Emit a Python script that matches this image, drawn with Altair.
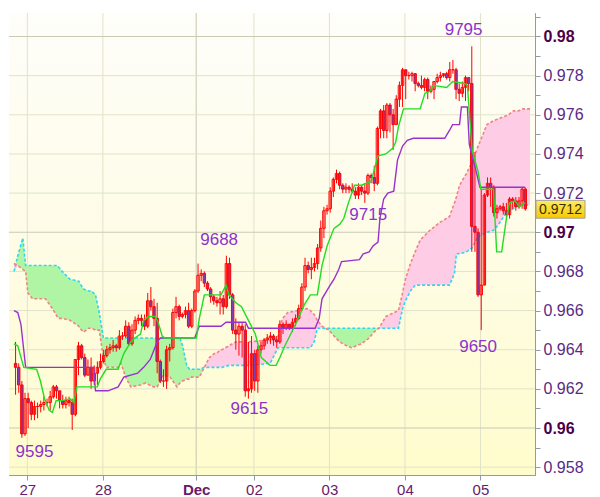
import altair as alt
import pandas as pd

# ---------------- data (prices in pips, 1/10000) ----------------
first_open = 9633
close = [9631, 9622, 9597, 9615, 9613, 9607, 9611, 9611, 9612, 9613,
         9613, 9616, 9621, 9619, 9614, 9612, 9614, 9613, 9607, 9635,
         9642, 9636, 9627, 9631, 9624, 9628, 9631, 9634, 9637, 9640,
         9641, 9642, 9641, 9647, 9647, 9652, 9643, 9650, 9655, 9656,
         9655, 9652, 9665, 9662, 9656, 9634, 9624, 9624, 9640, 9641,
         9659, 9662, 9657, 9658, 9660, 9652, 9660, 9670, 9678, 9679,
         9674, 9671, 9667, 9665, 9664, 9666, 9662, 9684, 9668, 9650,
         9648, 9652, 9650, 9619, 9620, 9638, 9624, 9640, 9642, 9645,
         9646, 9647, 9645, 9644, 9653, 9651, 9653, 9651, 9654, 9656,
         9661, 9672, 9683, 9681, 9682, 9684, 9692, 9702, 9711, 9712,
         9721, 9727, 9730, 9724, 9722, 9723, 9722, 9721, 9719, 9723,
         9721, 9720, 9729, 9728, 9725, 9753, 9762, 9752, 9765, 9760,
         9755, 9768, 9775, 9783, 9780, 9780, 9781, 9776, 9775, 9774,
         9778, 9772, 9773, 9777, 9779, 9780, 9781, 9779, 9783, 9783,
         9773, 9771, 9774, 9779, 9776, 9703, 9700, 9668, 9673, 9719,
         9725, 9723, 9710, 9712, 9713, 9711, 9709, 9717, 9716, 9713,
         9716, 9722, 9712]
high = [9644, 9633, 9624, 9618, 9618, 9614, 9614, 9613, 9614, 9616,
        9615, 9619, 9622, 9622, 9617, 9617, 9616, 9616, 9615, 9635,
        9644, 9643, 9638, 9635, 9636, 9632, 9634, 9638, 9640, 9642,
        9643, 9645, 9643, 9650, 9649, 9655, 9654, 9653, 9657, 9658,
        9658, 9658, 9669, 9672, 9666, 9664, 9635, 9630, 9642, 9643,
        9661, 9667, 9663, 9659, 9662, 9664, 9661, 9671, 9684, 9681,
        9680, 9675, 9672, 9668, 9667, 9670, 9668, 9688, 9687, 9669,
        9656, 9654, 9654, 9653, 9644, 9647, 9640, 9642, 9644, 9646,
        9648, 9649, 9648, 9647, 9655, 9654, 9655, 9653, 9656, 9658,
        9663, 9674, 9687, 9685, 9687, 9687, 9694, 9706, 9713, 9714,
        9723, 9728, 9732, 9731, 9725, 9725, 9724, 9725, 9723, 9725,
        9724, 9725, 9730, 9730, 9734, 9754, 9763, 9765, 9766, 9766,
        9763, 9770, 9777, 9784, 9783, 9782, 9782, 9781, 9777, 9780,
        9779, 9779, 9775, 9777, 9781, 9782, 9781, 9782, 9787, 9788,
        9784, 9776, 9777, 9780, 9779, 9795, 9741, 9702, 9722, 9720,
        9728, 9728, 9724, 9714, 9714, 9715, 9715, 9718, 9718, 9718,
        9718, 9723, 9723]
low = [9617, 9618, 9595, 9596, 9600, 9604, 9604, 9605, 9608, 9609,
       9611, 9609, 9615, 9615, 9610, 9610, 9610, 9611, 9599, 9606,
       9627, 9635, 9626, 9627, 9620, 9622, 9622, 9630, 9633, 9636,
       9638, 9639, 9639, 9640, 9645, 9646, 9642, 9642, 9648, 9653,
       9652, 9650, 9651, 9660, 9652, 9628, 9623, 9621, 9620, 9634,
       9640, 9656, 9655, 9656, 9656, 9651, 9651, 9659, 9669, 9675,
       9672, 9670, 9664, 9663, 9662, 9658, 9658, 9661, 9666, 9648,
       9640, 9637, 9636, 9616, 9615, 9618, 9619, 9618, 9638, 9640,
       9643, 9643, 9642, 9641, 9643, 9648, 9650, 9650, 9649, 9652,
       9655, 9660, 9670, 9679, 9676, 9680, 9681, 9690, 9697, 9709,
       9710, 9718, 9725, 9722, 9720, 9720, 9720, 9720, 9717, 9717,
       9719, 9715, 9719, 9725, 9721, 9724, 9748, 9748, 9748, 9751,
       9742, 9755, 9764, 9764, 9768, 9778, 9777, 9772, 9774, 9773,
       9772, 9768, 9771, 9768, 9776, 9777, 9779, 9778, 9777, 9781,
       9768, 9767, 9769, 9767, 9772, 9690, 9690, 9667, 9650, 9673,
       9718, 9713, 9708, 9707, 9711, 9709, 9707, 9707, 9712, 9711,
       9712, 9712, 9711]

tenkan_x = [-0.5, 0.7, 2.6, 6.7, 7.9, 9.2, 10.7, 11.7, 12.9, 14.8, 17.3, 18.5, 19.5,
            26.0, 26.9, 28.8, 32.6, 34.4, 36.6, 37.9, 39.7, 40.7, 42.2, 44.4, 45.3,
            46.6, 47.5, 53.8, 57.5, 58.4, 60.0, 65.3, 66.9, 67.8, 70.0, 71.8, 74.0,
            76.2, 78.1, 80.9, 82.8, 84.0, 85.6, 88.7, 91.8, 93.7, 95.9, 97.4, 99.0,
            101.2, 103.0, 104.3, 105.8, 107.7, 109.9, 113.0, 115.2, 117.7, 119.9,
            120.8, 121.7, 123.3, 128.6, 130.1, 131.7, 132.7, 137.0, 138.9, 142.7,
            143.6, 145.1, 147.0, 147.9, 151.9, 152.9, 154.5, 156.0, 157.0, 158.8,
            160.1, 161.9]
tenkan_y = [9643, 9642, 9631, 9630, 9624, 9615, 9609, 9608, 9614, 9614, 9615, 9613, 9621,
            9621, 9625, 9630, 9630, 9638, 9644, 9646, 9648, 9655, 9657, 9657, 9654,
            9647, 9646, 9646, 9646, 9656, 9668, 9668, 9673, 9668, 9664, 9662, 9655,
            9648, 9636, 9632, 9632, 9636, 9642, 9652, 9663, 9668, 9668, 9683, 9693,
            9702, 9704, 9707, 9715, 9724, 9724, 9726, 9739, 9740, 9743,
            9746, 9754, 9763, 9763, 9771, 9772, 9775, 9774, 9777, 9776,
            9775, 9742, 9731, 9722, 9722, 9690, 9690, 9707, 9715, 9716,
            9713, 9715]

kijun_x = [-0.5, 0.7, 1.7, 3.2, 24.8, 25.4, 29.4, 32.6, 34.4, 38.8, 40.7, 42.8, 45.0,
           46.0, 56.9, 58.4, 65.3, 66.9, 73.1, 74.0, 95.2, 96.5, 97.4, 99.6, 101.2,
           102.7, 103.6, 109.3, 110.5, 112.4, 113.6, 115.2, 115.8, 117.0, 118.3,
           120.2, 121.4, 123.0, 124.5, 126.4, 136.4, 137.9, 138.9, 141.1, 141.7,
           143.6, 144.2, 144.8, 146.4, 147.6, 161.9]
kijun_y = [9660, 9659, 9653, 9631, 9631, 9619, 9619, 9621, 9626, 9628, 9631, 9635, 9644,
           9646, 9646, 9652, 9652, 9654, 9654, 9651, 9651, 9656, 9666, 9672, 9676,
           9681, 9685, 9686, 9689, 9690, 9693, 9695, 9707, 9717, 9720,
           9721, 9737, 9744, 9747, 9748, 9748, 9752, 9755, 9755, 9764,
           9764, 9745, 9741, 9731, 9723, 9723]

cloud_x = [-0.5, 0.7, 2.3, 3.2, 3.9, 5.4, 9.5, 11.7, 13.2, 13.8, 14.8, 17.3, 20.1, 20.4,
           21.6, 23.2, 24.1, 25.4, 26.6, 27.9, 28.8, 32.6, 33.5, 35.0, 36.6, 39.7, 41.3,
           43.8, 45.0, 46.9, 49.1, 51.3, 52.2, 53.1, 54.4, 55.3, 55.9, 58.4, 60.0, 61.6,
           63.1, 63.7, 65.3, 65.6, 67.8, 70.0, 74.0, 80.9, 83.4, 84.0, 84.9, 86.5, 92.7,
           93.7, 94.9, 95.9, 97.4, 99.6, 101.2, 103.0, 105.2, 106.8, 108.3, 109.9, 112.4,
           113.9, 115.5, 117.7, 121.7, 123.0, 123.9, 125.5, 127.0, 128.6, 131.7, 134.8,
           137.9, 139.5, 140.1, 141.1, 143.3, 145.1, 147.0, 147.3, 149.8, 151.9, 153.5,
           155.1, 156.7, 158.2, 159.8, 161.3, 163.5]
span_a = [9680, 9688, 9697, 9683, 9683, 9683, 9683, 9683, 9683, 9682, 9680, 9676, 9675, 9674,
          9671, 9670, 9670, 9668, 9659, 9646, 9646, 9646, 9646, 9646, 9646, 9646, 9646,
          9646, 9646, 9646, 9646, 9646, 9646, 9642, 9632, 9630, 9630, 9630, 9631, 9631,
          9631, 9631, 9631, 9631, 9632, 9632, 9632, 9633, 9641, 9641, 9641, 9641, 9641,
          9641, 9644, 9651, 9651, 9651, 9651, 9651, 9651, 9651, 9651, 9651, 9651,
          9651, 9651, 9651, 9651, 9661, 9665, 9670, 9673, 9673, 9673, 9673,
          9673, 9679, 9689, 9689, 9690, 9692, 9698, 9698, 9700, 9701, 9704,
          9708, 9711, 9712, 9714, 9714, 9714]
span_b = [9684, 9683, 9681, 9680, 9669, 9666, 9666, 9661, 9657, 9656, 9656, 9655, 9652, 9651,
          9649, 9651, 9651, 9650, 9650, 9636, 9631, 9631, 9633, 9626, 9621, 9622, 9623,
          9621, 9621, 9627, 9626, 9621, 9623, 9624, 9625, 9625, 9626, 9626, 9631, 9636,
          9638, 9638, 9640, 9640, 9642, 9644, 9644, 9645, 9646, 9652, 9656, 9659, 9661,
          9660, 9658, 9655, 9652, 9650, 9647, 9644, 9642, 9641, 9642, 9643, 9646,
          9649, 9651, 9657, 9660, 9669, 9676, 9684, 9690, 9696, 9701, 9705,
          9708, 9715, 9718, 9724, 9730, 9736, 9744, 9745, 9755, 9757, 9758,
          9759, 9760, 9762, 9762, 9763, 9763]

day_pos = [3.75, 27.75, 57.4, 75.75, 99.75, 123.75, 147.75]
day_labels = ["27", "28", "Dec", "02", "03", "04", "05"]

y_ticks = [0.958, 0.959, 0.960, 0.961, 0.962, 0.963, 0.964, 0.965, 0.966, 0.967, 0.968,
           0.969, 0.970, 0.971, 0.972, 0.973, 0.974, 0.975, 0.976, 0.977, 0.978, 0.979,
           0.980, 0.981]
grid_y = [0.958, 0.960, 0.962, 0.964, 0.966, 0.968, 0.970, 0.972, 0.974, 0.976, 0.978, 0.980]

note_text = ["9795", "9688", "9715", "9615", "9650", "9595"]
note_x = [142.4, 64.7, 112.1, 74.3, 147.0, 6.0]
note_y = [9803.5, 9696, 9709, 9609.5, 9641.5, 9587.5]

# ---------------- build ----------------
PIP = 10000.0
W, H = 526, 462
FONT = "Liberation Sans"
AXC = "#8c9ca8"

opens = [first_open] + close[:-1]
candles = pd.DataFrame({
    "i": list(range(len(close))),
    "open": [v / PIP for v in opens],
    "close": [v / PIP for v in close],
    "high": [v / PIP for v in high],
    "low": [v / PIP for v in low],
})
tenkan = pd.DataFrame({"x": tenkan_x, "y": [v / PIP for v in tenkan_y]})
kijun = pd.DataFrame({"x": kijun_x, "y": [v / PIP for v in kijun_y]})
cloud = pd.DataFrame({"x": cloud_x, "a": [v / PIP for v in span_a], "b": [v / PIP for v in span_b]})
cloud["lo"] = cloud[["a", "b"]].min(axis=1)
notes = pd.DataFrame({"t": note_text, "x": note_x, "y": [v / PIP for v in note_y]})
last = close[-1] / PIP
pbox = pd.DataFrame({"p": [last], "top": [last + 0.00043], "bot": [last - 0.00048],
                     "t": [f"{last:.4f}"]})

xs = alt.Scale(domain=[-0.5, 163.5], nice=False, zero=False)
ys = alt.Scale(domain=[0.9576, 0.9812], nice=False, zero=False)

dec_pos = day_pos[day_labels.index("Dec")]
x_expr = "".join(f"abs(datum.value - {p}) < 0.5 ? '{l}' : " for p, l in zip(day_pos, day_labels)) + "''"

xaxis = alt.Axis(values=day_pos, labelExpr=x_expr, title=None, grid=False,
                 tickSize=5, tickColor=AXC, domainColor=AXC, labelFont=FONT,
                 labelFontSize=15, labelPadding=2, labelOverlap=False,
                 labelColor="#6a1a6a",
                 labelFontWeight={"condition": {"test": f"abs(datum.value - {dec_pos}) < 0.5",
                                                "value": "bold"}, "value": "normal"})
major_test = "abs(datum.value*100 - round(datum.value*100)) < 0.000001"
yaxis = alt.Axis(orient="right", values=y_ticks, title=None, grid=False,
                 labelExpr="round(datum.value*1000) % 2 == 0 ? format(datum.value, '.3~f') : ''",
                 tickSize=5, tickColor=AXC, domainColor=AXC, labelFont=FONT,
                 labelFontSize=16, labelPadding=3, labelOverlap=False,
                 labelColor={"condition": {"test": major_test, "value": "#4c004c"},
                             "value": "#5a2a82"},
                 labelFontWeight={"condition": {"test": major_test, "value": "bold"},
                                  "value": "normal"})


def X(field):
    return alt.X(field, type="quantitative", scale=xs, axis=xaxis, title=None)


def Y(field):
    return alt.Y(field, type="quantitative", scale=ys, axis=yaxis, title=None)


bg = alt.Chart(pd.DataFrame({"k": [0]})).mark_rect(
    fill=alt.Gradient(gradient="linear",
                      stops=[alt.GradientStop(color="#fefefa", offset=0),
                             alt.GradientStop(color="#fefce6", offset=0.5),
                             alt.GradientStop(color="#fffccc", offset=1)],
                      x1=0, x2=0, y1=0, y2=1)
).encode(x=alt.value(0), x2=alt.value(W), y=alt.value(0), y2=alt.value(H))

hgrid = alt.Chart(pd.DataFrame({"v": grid_y})).mark_rule(strokeWidth=1).encode(
    y=Y("v"),
    color=alt.condition("abs(datum.v*100 - round(datum.v*100)) < 0.000001",
                        alt.value("#c8cab4"), alt.value("#e2e2c8")))

vgrid = alt.Chart(pd.DataFrame({"d": day_pos})).mark_rule(strokeWidth=1).encode(
    x=X("d"),
    color=alt.condition(f"abs(datum.d - {dec_pos}) < 0.5",
                        alt.value("#c6c8b0"), alt.value("#e2e2c8")))

green_fill = alt.Chart(cloud).mark_area(color="#b0f5a4", opacity=1).encode(
    x=X("x"), y=Y("a"), y2="lo:Q")
pink_fill = alt.Chart(cloud).mark_area(color="#ffcce6", opacity=1).encode(
    x=X("x"), y=Y("b"), y2="lo:Q")
line_a = alt.Chart(cloud).mark_line(color="#2fd6f0", strokeWidth=1.6, strokeDash=[3, 2]).encode(
    x=X("x"), y=Y("a"))
line_b = alt.Chart(cloud).mark_line(color="#f08484", strokeWidth=1.6, strokeDash=[3, 2]).encode(
    x=X("x"), y=Y("b"))

wicks = alt.Chart(candles).mark_rule(color="#ff0000", strokeWidth=1).encode(
    x=X("i"), y=Y("low"), y2="high:Q")
bodies = alt.Chart(candles).mark_bar(size=2.4, stroke="#ff0000", strokeWidth=1).encode(
    x=X("i"), y=Y("open"), y2="close:Q",
    fill=alt.condition("datum.close >= datum.open", alt.value("transparent"), alt.value("#7a3fb0")))

kijun_l = alt.Chart(kijun).mark_line(color="#9932cc", strokeWidth=1.4).encode(
    x=X("x"), y=Y("y"))
tenkan_l = alt.Chart(tenkan).mark_line(color="#22dd22", strokeWidth=1.4).encode(
    x=X("x"), y=Y("y"))

note_l = alt.Chart(notes).mark_text(font=FONT, fontSize=17, color="#8c33cc",
                                    align="center", baseline="middle").encode(
    x=X("x"), y=Y("y"), text="t:N")

box = alt.Chart(pbox).mark_rect(
    fill=alt.Gradient(gradient="linear",
                      stops=[alt.GradientStop(color="#ffec60", offset=0),
                             alt.GradientStop(color="#f7c800", offset=1)],
                      x1=0, x2=0, y1=0, y2=1),
    stroke="#a0a0a0", strokeWidth=1
).encode(x=alt.value(W + 1), x2=alt.value(W + 50), y=Y("top"), y2="bot:Q")
box_t = alt.Chart(pbox).mark_text(font=FONT, fontSize=14, color="#3a2c00",
                                  align="center", baseline="middle", dy=1).encode(
    x=alt.value(W + 25.5), y=Y("p"), text="t:N")

chart = alt.layer(
    bg, vgrid, hgrid, green_fill, pink_fill, line_a, line_b,
    wicks, bodies, kijun_l, tenkan_l, note_l, box, box_t
).properties(
    width=W, height=H, padding=0, background="white"
).configure_view(stroke="#9aabb5", strokeWidth=1)

chart.save("out.html", embed_options={"renderer": "svg", "actions": False})
